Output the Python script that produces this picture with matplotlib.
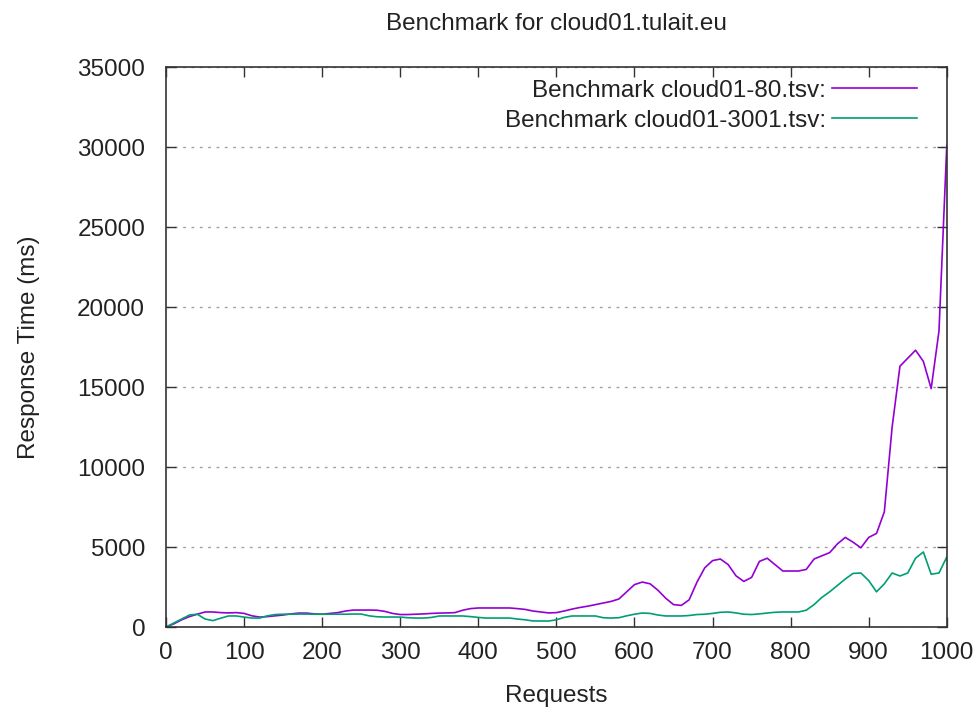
import matplotlib
matplotlib.use('Agg')
import numpy as np
import matplotlib.pyplot as plt

plt.rcParams['font.family'] = ['Liberation Sans', 'DejaVu Sans']

# requests (x) sampled every 10
requests = list(range(0, 1001, 10))

# Benchmark cloud01-80.tsv (ms)
port80 = [0, 200, 450, 650, 800, 940, 940, 900, 880, 900,
          850, 700, 620, 650, 700, 750, 820, 870, 870, 820,
          800, 850, 900, 1000, 1060, 1060, 1060, 1050, 980, 850,
          780, 780, 800, 820, 850, 870, 880, 900, 1050, 1150,
          1190, 1190, 1190, 1190, 1190, 1150, 1100, 1000, 940, 880,
          900, 1000, 1120, 1220, 1300, 1400, 1500, 1600, 1750, 2200,
          2650, 2810, 2700, 2300, 1800, 1400, 1350, 1700, 2800, 3700,
          4150, 4250, 3900, 3200, 2850, 3100, 4100, 4300, 3900, 3500,
          3500, 3500, 3600, 4250, 4450, 4650, 5200, 5600, 5300, 4950,
          5600, 5850, 7200, 12500, 16300, 16800, 17300, 16600, 14900, 18500,
          30100]

# Benchmark cloud01-3001.tsv (ms)
port3001 = [0, 250, 500, 750, 800, 500, 400, 550, 690, 690,
            620, 560, 560, 700, 780, 800, 800, 810, 810, 800,
            800, 800, 800, 800, 810, 810, 700, 640, 625, 625,
            620, 580, 560, 560, 600, 690, 690, 690, 690, 650,
            600, 560, 560, 560, 560, 500, 450, 380, 375, 375,
            450, 600, 690, 690, 690, 690, 580, 560, 580, 700,
            800, 875, 850, 750, 690, 690, 690, 720, 780, 800,
            850, 920, 940, 880, 800, 780, 820, 875, 920, 940,
            940, 940, 1050, 1400, 1850, 2200, 2600, 3000, 3350, 3375,
            2900, 2200, 2700, 3375, 3190, 3375, 4300, 4690, 3300, 3375,
            4375]

txt = '#222222'
fs = 17.5

fig = plt.figure(figsize=(9.79, 7.13), dpi=100)
ax = fig.add_axes([0.1696, 0.1206, 0.7975, 0.7854])

ax.plot(requests, port80, color='#9400d3', lw=1.2, label='Benchmark cloud01-80.tsv:')
ax.plot(requests, port3001, color='#009e73', lw=1.2, label='Benchmark cloud01-3001.tsv:')

ax.set_xlim(0, 1000)
ax.set_ylim(0, 35000)
ax.set_xticks(np.arange(0, 1001, 100))
ax.set_yticks(np.arange(0, 35001, 5000))
ax.tick_params(direction='in', top=True, right=True, length=7, width=1,
               labelsize=fs, colors='#333333', labelcolor=txt)
ax.tick_params(axis='x', pad=11)
ax.tick_params(axis='y', pad=15)
ax.yaxis.grid(True, linestyle=(0, (2, 4)), color='#a0a0a0', lw=1)
for s in ax.spines.values():
    s.set_linewidth(1.2)
    s.set_color('#333333')

ax.set_title('Benchmark for cloud01.tulait.eu', fontsize=17.5, pad=27, color=txt)
ax.set_xlabel('Requests', fontsize=fs, labelpad=15, color=txt)
ax.set_ylabel('Response Time (ms)', fontsize=fs, labelpad=27, color=txt)

leg = ax.legend(loc='upper right', frameon=False, markerfirst=False, fontsize=fs,
                handlelength=3.5, handletextpad=0.25, labelspacing=0.33,
                borderpad=0, borderaxespad=0, bbox_to_anchor=(0.9616, 0.977))
for t in leg.get_texts():
    t.set_color(txt)

plt.savefig('out.png', dpi=100)
